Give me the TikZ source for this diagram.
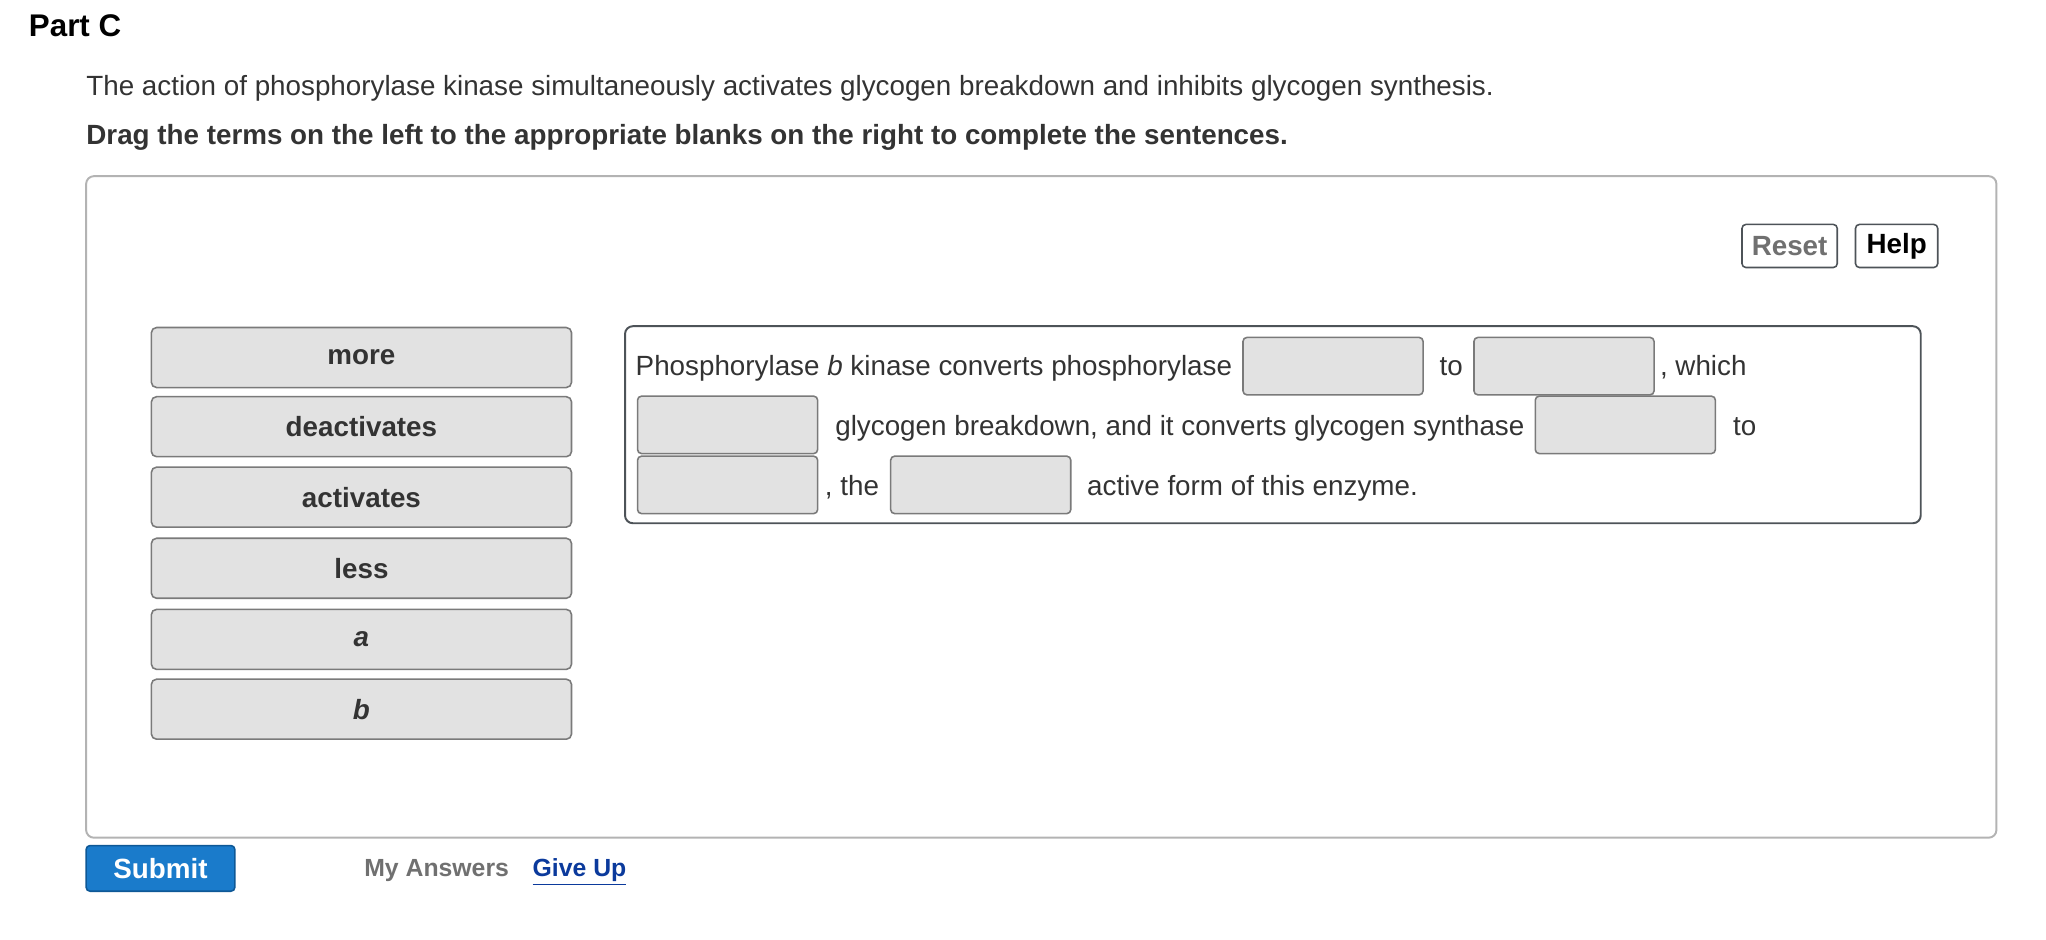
\documentclass[tikz,border=0pt]{standalone}
\usepackage{fontspec}
\setmainfont{Liberation Sans}
\usetikzlibrary{positioning}
\definecolor{txt}{HTML}{333333}
\definecolor{boxfill}{HTML}{E2E2E2}
\definecolor{boxline}{HTML}{7A7A7A}
\definecolor{frame}{HTML}{B3B3B3}
\definecolor{sentline}{HTML}{4D5358}
\definecolor{submitblue}{HTML}{1A7BCB}
\definecolor{submitline}{HTML}{0E5896}
\definecolor{linkblue}{HTML}{0B3A9C}
\definecolor{greytxt}{HTML}{707070}
\begin{document}
\begin{tikzpicture}[x=1pt, y=-1pt, font=\fontsize{21.3}{25}\selectfont, text=txt,
  term/.style={draw=boxline, fill=boxfill, line width=1.2pt, rounded corners=4pt,
    minimum width=322pt, minimum height=46pt, font=\fontsize{21.3}{25}\selectfont\bfseries},
  blank/.style={draw=boxline, fill=boxfill, line width=1.2pt, rounded corners=3pt,
    minimum width=138pt, minimum height=44pt, anchor=north west},
  word/.style={anchor=base west, inner sep=0pt},
  btn/.style={draw=sentline, line width=1.2pt, rounded corners=3pt, minimum height=33pt,
    font=\fontsize{21.3}{25}\selectfont\bfseries}]

  \useasboundingbox (0,0) rectangle (1568,720);

  % heading
  \node[word, font=\fontsize{24}{28}\selectfont\bfseries, text=black] (part) at (22,28) {Part C};
  \node[word] (intro) at (66,73) {The action of phosphorylase kinase simultaneously activates glycogen breakdown and inhibits glycogen synthesis.};
  \node[word, font=\fontsize{21.3}{25}\selectfont\bfseries] (drag) at (66,111) {Drag the terms on the left to the appropriate blanks on the right to complete the sentences.};

  % frame
  \draw[frame, line width=1.5pt, rounded corners=6pt] (66,135) rectangle (1530,642);
  \node[btn, minimum width=73pt, text=greytxt] (reset) at (1371.5,188.5) {Reset};
  \node[btn, minimum width=63pt, text=black] (help) at (1453.5,188.5) {Help};

  % terms
  \node[term] (more) at (277,274) {more};
  \node[term] (deact) at (277,327) {deactivates};
  \node[term] (act) at (277,381) {activates};
  \node[term] (less) at (277,435.5) {less};
  \node[term] (ta) at (277,490) {\textit{a}};
  \node[term] (tb) at (277,543.5) {\textit{b}};

  % sentences
  \draw[sentline, line width=1.5pt, rounded corners=6pt] (479,250) rectangle (1472,401);
  \node[word] (s1) at (487,288) {Phosphorylase \textit{b} kinase converts phosphorylase};
  \node[blank] (b1) at (952,258) {};
  \node[word] (s2) at (1103,288) {to};
  \node[blank] (b2) at (1129,258) {};
  \node[word] (s3) at (1272,288) {, which};
  \node[blank] (b3) at (488,303) {};
  \node[word] (s4) at (640,334) {glycogen breakdown, and it converts glycogen synthase};
  \node[blank] (b4) at (1176,303) {};
  \node[word] (s5) at (1328,334) {to};
  \node[blank] (b5) at (488,349) {};
  \node[word] (s6) at (632,380) {, the};
  \node[blank] (b6) at (682,349) {};
  \node[word] (s7) at (833,380) {active form of this enzyme.};

  % bottom
  \node[btn, draw=submitline, fill=submitblue, text=white, minimum width=114pt, minimum height=35pt] (submit) at (123,665.5) {Submit};
  \node[word, font=\fontsize{19}{23}\selectfont\bfseries, text=greytxt] (mine) at (279,672) {My Answers};
  \node[word, font=\fontsize{19}{23}\selectfont\bfseries, text=linkblue] (giveup) at (408,672) {\underline{Give Up}};
\end{tikzpicture}
\end{document}
